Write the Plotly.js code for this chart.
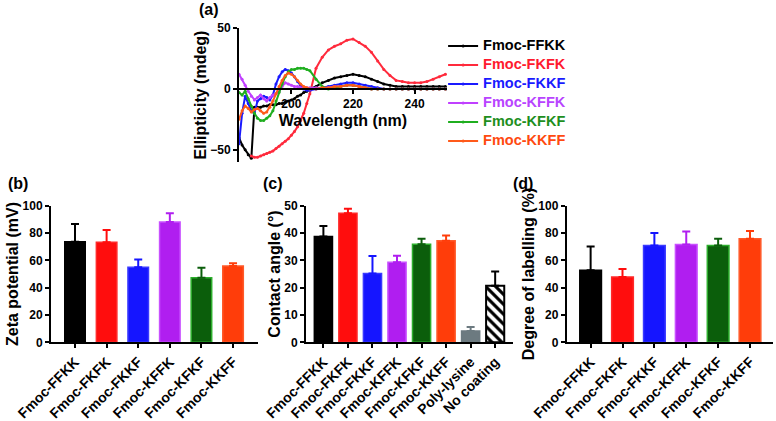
<!DOCTYPE html>
<html>
<head>
<meta charset="utf-8">
<script src="https://cdn.plot.ly/plotly-3.0.1.min.js"></script>
<style>
  html, body { margin: 0; padding: 0; background: #fff; }
  #chart { width: 776px; height: 421px; }
</style>
</head>
<body>
<div id="chart"></div>
<script>
// (a) CD spectra
const wavelength = [183,184,185,186,187,188,189,190,191,192,193,194,195,196,197,198,199,200,201,202,203,204,205,206,
                    208,210,212,214,216,218,220,222,224,226,228,230,232,234,236,238,240,242,244,246,248,250];
const cdFFKK = [-40,-46,-50,-54,-57,-15,-15,-15,-14,-14,-13,-13,-13,-12,-12,-11,-10,-9,-8,-6,-5,-3,-2,0,
                2,5,7,9,10,11,12,11,10,8,6,4,3,2,2,2,2,2,2,2,2,2];
const cdFKFK = [null,null,null,null,-55,-56,-56,-55,-54,-53,-52,-51,-49,-47,-45,-43,-41,-38,-35,-31,-26,-20,-12,-4,
                17,26,32,35,37,40,41,38,35,30,23,16,11,7,6,5,5,5,6,8,10,12];
const cdFKKF = [-45,-20,-6,-12,-18,-20,-10,-8,-6,-7,-9,-5,4,10,14,16,15,13,10,6,3,0,-1,-1,
                0,1,2,3,4,5,5,4,3,2,1,0,0,0,0,0,0,0,0,0,0,0];
const cdKFFK = [12,8,3,-2,-6,-9,-7,-5,-8,-10,-7,-5,-4,-2,2,5,4,3,2,2,1,1,1,1,
                1,1,1,2,2,3,3,2,1,0,0,0,0,0,0,0,0,0,0,0,0,0];
const cdKFKF = [-3,-5,-2,-8,-14,-20,-24,-26,-26,-24,-22,-18,-10,-3,4,10,14,16,16,17,17,17,16,15,
                8,2,0,1,2,3,3,2,1,0,0,0,0,0,0,0,0,0,0,0,0,0];
const cdKKFF = [-25,-18,-14,-16,-19,-17,-16,-18,-20,-19,-15,-10,-4,2,7,11,13,12,10,7,4,2,1,0,
                0,1,1,2,2,3,3,2,1,0,0,0,0,0,0,0,0,0,0,0,0,0];

const peptides = ['Fmoc-FFKK', 'Fmoc-FKFK', 'Fmoc-FKKF', 'Fmoc-KFFK', 'Fmoc-KFKF', 'Fmoc-KKFF'];
const cdSeries = [cdFFKK, cdFKFK, cdFKKF, cdKFFK, cdKFKF, cdKKFF];
const lineColors = ['#000000', '#ff2a3c', '#1a1aff', '#c040ff', '#1fae1f', '#ff5a1a'];
const legendColors = ['#000000', '#ff1a2e', '#1a1aff', '#b844ff', '#1e8f1e', '#ff4a10'];

// (b) zeta potential
const zetaMean = [73.7, 73.2, 54.9, 88.0, 47.3, 55.9];
const zetaErr  = [12.9, 9.0, 5.8, 6.4, 7.3, 1.9];

// (c) contact angle
const contactCats = ['Fmoc-FFKK', 'Fmoc-FKFK', 'Fmoc-FKKF', 'Fmoc-KFFK', 'Fmoc-KFKF', 'Fmoc-KKFF', 'Poly-lysine', 'No coating'];
const contactMean = [38.7, 47.2, 25.2, 29.3, 35.9, 37.2, 4.1, 20.7];
const contactErr  = [3.9, 1.7, 6.4, 2.4, 2.0, 1.9, 1.5, 5.2];

// (d) degree of labelling
const labelMean = [52.8, 47.9, 70.9, 71.6, 70.9, 75.8];
const labelErr  = [17.3, 5.7, 9.1, 9.6, 4.9, 5.7];

const barColors = ['#000000', '#ff0d0d', '#1515ff', '#b01ef0', '#0b5e0b', '#ff3d0a', '#6c7a80', '#ffffff'];
const barEdges  = ['#000000', '#ff2a2a', '#3a3aff', '#c850ff', '#2cae2c', '#ff5a2a', '#6c7a80', '#000000'];

const FONT = 'Liberation Sans, Arial, sans-serif';
const traces = [];

cdSeries.forEach((ys, i) => {
    traces.push({
        x: wavelength, y: ys,
        type: 'scatter', mode: 'lines+markers',
        name: '<span style="color:' + legendColors[i] + ';font-size:14.5px">' + peptides[i] + '</span>',
        line: { color: lineColors[i], width: 2 },
        marker: { color: lineColors[i], size: 3 },
        xaxis: 'x', yaxis: 'y',
        connectgaps: false
    });
});

function addBars(cats, means, errs, xa, ya, width) {
    cats.forEach((c, i) => {
        const hatched = c === 'No coating';
        traces.push({
            x: [c], y: [means[i]],
            type: 'bar', width: width,
            showlegend: false,
            xaxis: xa, yaxis: ya,
            marker: {
                color: barColors[i],
                line: { color: barEdges[i], width: hatched ? 2 : 1.5 },
                pattern: hatched ? { shape: '\\', fgcolor: '#000000', bgcolor: '#ffffff', size: 7, solidity: 0.45 } : undefined
            },
            error_y: {
                type: 'data', symmetric: false,
                array: [errs[i]], arrayminus: [0],
                color: hatched ? '#000000' : barColors[i],
                thickness: 2, width: 4
            }
        });
    });
}

addBars(peptides, zetaMean, zetaErr, 'x2', 'y2', 0.65);
addBars(contactCats, contactMean, contactErr, 'x3', 'y3', 0.74);
addBars(peptides, labelMean, labelErr, 'x4', 'y4', 0.68);

const tickFont = { family: FONT, size: 12, color: '#000', weight: 'bold' };
const catFont = { family: FONT, size: 14, color: '#000', weight: 'bold' };
const titleFont = { family: FONT, size: 16, color: '#000', weight: 'bold' };

const commonAxis = {
    showline: true, linecolor: '#000', linewidth: 2,
    ticks: 'outside', ticklen: 4, tickwidth: 2, tickcolor: '#000',
    showgrid: false, zeroline: false, automargin: false, fixedrange: true
};

function catAxis(domain, range, anchor) {
    return Object.assign({}, commonAxis, {
        domain: domain, range: range, anchor: anchor, type: 'category',
        tickangle: -45, tickfont: catFont
    });
}
function valAxis(domain, range, dtick, anchor, title) {
    return Object.assign({}, commonAxis, {
        domain: domain, range: range, dtick: dtick, anchor: anchor,
        tickfont: tickFont,
        title: { text: title, font: titleFont, standoff: 0 }
    });
}

const layout = {
    width: 776, height: 421,
    margin: { l: 0, r: 0, t: 0, b: 0 },
    paper_bgcolor: '#fff', plot_bgcolor: 'rgba(0,0,0,0)',
    barmode: 'overlay',
    showlegend: true,
    legend: {
        x: 0.571, y: 0.925, xanchor: 'left', yanchor: 'top',
        font: { family: FONT, size: 11, weight: 'bold' },
        bgcolor: 'rgba(0,0,0,0)', tracegroupgap: 0
    },
    xaxis: Object.assign({}, commonAxis, {
        domain: [0.308, 0.576], range: [183, 250.5], anchor: 'free', position: 0.7886,
        tickvals: [200, 220, 240], tickfont: tickFont,
        title: { text: 'Wavelength (nm)', font: titleFont, standoff: 3 }
    }),
    yaxis: Object.assign({}, commonAxis, {
        domain: [0.6152, 0.9335], range: [-60, 50], anchor: 'x',
        tickvals: [-50, 0, 50], tickfont: tickFont,
        title: { text: 'Ellipticity (mdeg)', font: titleFont, standoff: 0 }
    }),
    xaxis2: catAxis([0.0657, 0.3325], [-0.76, 5.79], 'y2'),
    yaxis2: valAxis([0.1869, 0.5114], [0, 100], 20, 'x2', 'Zeta potential (mV)'),
    xaxis3: catAxis([0.3943, 0.6615], [-0.71, 7.74], 'y3'),
    yaxis3: valAxis([0.1869, 0.5114], [0, 50], 10, 'x3', 'Contact angle (°)'),
    xaxis4: catAxis([0.7303, 0.9965], [-0.75, 5.73], 'y4'),
    yaxis4: valAxis([0.1869, 0.5114], [0, 100], 20, 'x4', 'Degree of labelling (%)'),
    annotations: [
        { text: '(a)', x: 197 / 776, y: 1 - 10 / 421 },
        { text: '(b)', x: 6 / 776, y: 1 - 183 / 421 },
        { text: '(c)', x: 261 / 776, y: 1 - 183 / 421 },
        { text: '(d)', x: 511 / 776, y: 1 - 183 / 421 }
    ].map(a => Object.assign(a, {
        xref: 'paper', yref: 'paper', xanchor: 'left', yanchor: 'middle',
        showarrow: false, font: { family: FONT, size: 16, color: '#000', weight: 'bold' }
    }))
};

Plotly.newPlot('chart', traces, layout, { displayModeBar: false, staticPlot: true });
</script>
</body>
</html>
